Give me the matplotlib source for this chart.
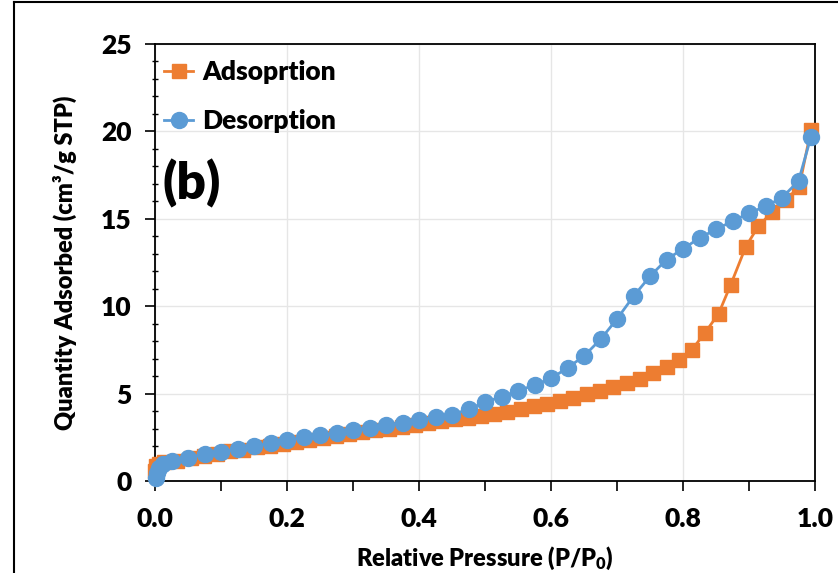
import matplotlib
matplotlib.use("Agg")
import matplotlib.pyplot as plt
from matplotlib.ticker import MultipleLocator
from matplotlib.lines import Line2D

plt.rcParams['font.family'] = ['Lato', 'DejaVu Sans']
plt.rcParams['font.weight'] = 'heavy'
plt.rcParams['mathtext.default'] = 'regular'

# adsorption branch (orange squares)
ads_x = [0.0005, 0.002, 0.006, 0.014, 0.034, 0.054, 0.074, 0.094, 0.114, 0.134,
         0.154, 0.174, 0.194, 0.214, 0.234, 0.254, 0.274, 0.294, 0.314, 0.334,
         0.354, 0.374, 0.394, 0.414, 0.434, 0.454, 0.474, 0.494, 0.514, 0.534,
         0.554, 0.574, 0.594, 0.614, 0.634, 0.654, 0.674, 0.694, 0.715, 0.735,
         0.755, 0.775, 0.794, 0.813, 0.833, 0.854, 0.872, 0.895, 0.914, 0.935,
         0.956, 0.976, 0.994]
ads_y = [0.55, 0.85, 1.0, 1.08, 1.17, 1.3, 1.44, 1.57, 1.69, 1.8,
         1.92, 2.03, 2.14, 2.25, 2.37, 2.47, 2.57, 2.68, 2.79, 2.89,
         3.0, 3.1, 3.2, 3.31, 3.42, 3.53, 3.63, 3.72, 3.84, 3.97,
         4.12, 4.27, 4.42, 4.58, 4.75, 4.95, 5.16, 5.35, 5.58, 5.83,
         6.15, 6.5, 6.91, 7.49, 8.46, 9.58, 11.2, 13.39, 14.57, 15.39,
         16.1, 16.82, 20.1]

# desorption branch (blue circles)
des_x = [0.994, 0.975, 0.95, 0.925, 0.9, 0.875, 0.85, 0.825, 0.8, 0.775,
         0.75, 0.725, 0.7, 0.675, 0.65, 0.625, 0.6, 0.575, 0.55, 0.525,
         0.5, 0.475, 0.45, 0.425, 0.4, 0.375, 0.35, 0.325, 0.3, 0.275,
         0.25, 0.225, 0.2, 0.175, 0.15, 0.125, 0.1, 0.075, 0.05, 0.025,
         0.012, 0.006, 0.003, 0.001]
des_y = [19.7, 17.16, 16.21, 15.71, 15.33, 14.86, 14.4, 13.9, 13.28, 12.67,
         11.71, 10.57, 9.27, 8.1, 7.15, 6.47, 5.87, 5.49, 5.16, 4.82,
         4.51, 4.1, 3.8, 3.66, 3.49, 3.34, 3.21, 3.06, 2.91, 2.76,
         2.61, 2.49, 2.33, 2.17, 2.0, 1.84, 1.67, 1.53, 1.34, 1.12,
         0.95, 0.75, 0.45, 0.15]

orange = '#ED7D31'
blue = '#5B9BD5'

fig = plt.figure(figsize=(8.38, 5.73), dpi=100)
ax = fig.add_axes([155 / 838, 1 - 481 / 573, 660 / 838, 437 / 573])

ax.plot(ads_x, ads_y, color=orange, lw=2, marker='s', ms=10.5,
        label='Adsoprtion', clip_on=False, zorder=3)
ax.plot(des_x, des_y, color=blue, lw=2, marker='o', ms=11.5,
        label='Desorption', clip_on=False, zorder=4)

ax.set_xlim(0, 1.0)
ax.set_ylim(0, 25)
ax.xaxis.set_minor_locator(MultipleLocator(0.1))
ax.yaxis.set_major_locator(MultipleLocator(5))
ax.yaxis.set_minor_locator(MultipleLocator(1))
ax.set_xticks([0, 0.2, 0.4, 0.6, 0.8, 1.0])
ax.set_xticklabels(['0.0', '0.2', '0.4', '0.6', '0.8', '1.0'])

ax.grid(True, which='major', color='#E6E6E6', lw=1, zorder=0)
ax.set_axisbelow(True)
for s in ax.spines.values():
    s.set_color('black')
    s.set_linewidth(1.3)

ax.tick_params(axis='both', which='major', labelsize=19, width=1.2, color='black')
ax.tick_params(axis='x', which='both', direction='out', length=7, width=1.2, pad=12)
ax.tick_params(axis='y', which='major', direction='out', length=7, pad=10)
ax.tick_params(axis='y', which='minor', direction='inout', length=5, width=1.0)

ax.set_xlabel('Relative Pressure (P/P$_0$)', fontsize=17, fontweight='heavy', labelpad=10)
ax.set_ylabel('Quantity Adsorbed (cm³/g STP)', fontsize=17, fontweight='heavy', labelpad=17)

ax.legend(loc='upper left', frameon=False, fontsize=19, handlelength=1.1,
          handletextpad=0.35, labelspacing=0.95, borderaxespad=0.2,
          bbox_to_anchor=(-0.01, 1.0))

ax.text(0.012, 0.68, '(b)', transform=ax.transAxes, fontsize=37,
        va='center', ha='left')

# outer frame (left and top edges)
fig.add_artist(Line2D([14 / 838, 14 / 838], [0, 1 - 2 / 573], color='black', lw=1.5))
fig.add_artist(Line2D([14 / 838, 1], [1 - 2 / 573, 1 - 2 / 573], color='black', lw=1.5))

fig.savefig('out.png', dpi=100)
